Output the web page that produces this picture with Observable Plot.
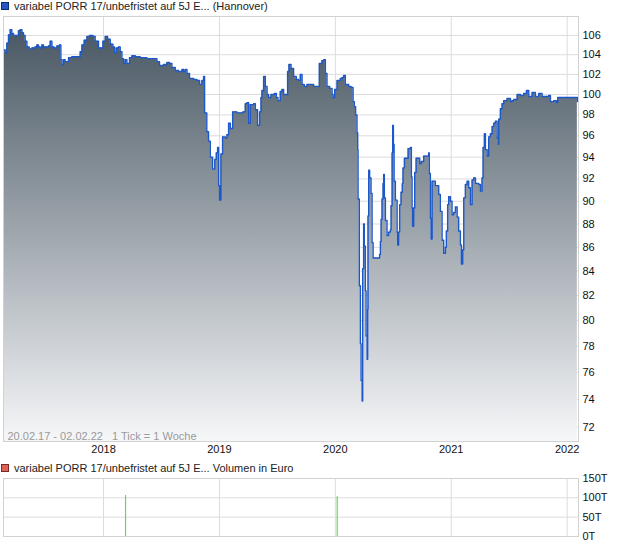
<!DOCTYPE html>
<html><head><meta charset="utf-8">
<script src="https://cdn.jsdelivr.net/npm/d3@7"></script>
<script src="https://cdn.jsdelivr.net/npm/@observablehq/plot@0.6"></script>
<style>
body{margin:0;background:#fff;font-family:"Liberation Sans",Arial,sans-serif;}
.title{position:absolute;left:1px;font-size:11px;line-height:13px;color:#222;white-space:nowrap}
.sq{display:inline-block;width:6px;height:6px;margin-right:5px;}
#main{position:absolute;left:0;top:10px}
#vol{position:absolute;left:0;top:472px}
</style></head><body>
<div class="title" style="top:0"><span class="sq" style="background:#2457c5;border:1px solid #0d2a6b"></span>variabel PORR 17/unbefristet auf 5J E... (Hannover)</div>
<div id="main"></div>
<div class="title" style="top:462px"><span class="sq" style="background:#e0605a;border:1px solid #7a2a26"></span>variabel PORR 17/unbefristet auf 5J E... Volumen in Euro</div>
<div id="vol"></div>
<script>
// ---- data (decimal years) ----
const priceYears = [2017.137,2017.152,2017.166,2017.180,2017.195,2017.209,2017.223,2017.246,2017.266,2017.281,
2017.296,2017.309,2017.324,2017.339,2017.359,2017.382,2017.410,2017.425,2017.439,2017.454,
2017.468,2017.482,2017.511,2017.525,2017.540,2017.555,2017.574,2017.598,2017.620,2017.632,
2017.641,2017.655,2017.669,2017.698,2017.727,2017.784,2017.799,2017.814,2017.833,2017.857,
2017.879,2017.909,2017.928,2017.957,2017.978,2017.995,2018.015,2018.035,2018.058,2018.081,
2018.095,2018.110,2018.129,2018.144,2018.159,2018.173,2018.187,2018.202,2018.224,2018.245,
2018.274,2018.317,2018.375,2018.432,2018.461,2018.483,2018.518,2018.547,2018.570,2018.590,
2018.619,2018.647,2018.677,2018.691,2018.705,2018.720,2018.742,2018.777,2018.806,2018.829,
2018.849,2018.863,2018.872,2018.891,2018.906,2018.921,2018.941,2018.960,2018.973,2018.984,
2018.993,2019.001,2019.013,2019.027,2019.051,2019.065,2019.079,2019.094,2019.114,2019.152,
2019.203,2019.223,2019.238,2019.252,2019.266,2019.295,2019.310,2019.329,2019.347,2019.359,
2019.367,2019.381,2019.396,2019.411,2019.424,2019.445,2019.474,2019.491,2019.505,2019.525,
2019.540,2019.554,2019.577,2019.588,2019.600,2019.618,2019.640,2019.663,2019.683,2019.698,
2019.713,2019.732,2019.756,2019.784,2019.813,2019.847,2019.862,2019.885,2019.899,2019.914,
2019.928,2019.951,2019.972,2019.980,2019.994,2020.015,2020.043,2020.058,2020.072,2020.086,
2020.115,2020.136,2020.153,2020.164,2020.175,2020.187,2020.193,2020.196,2020.207,2020.216,
2020.222,2020.231,2020.236,2020.244,2020.250,2020.259,2020.265,2020.274,2020.279,2020.282,
2020.288,2020.296,2020.308,2020.317,2020.326,2020.365,2020.382,2020.389,2020.395,2020.403,
2020.412,2020.417,2020.423,2020.432,2020.446,2020.460,2020.475,2020.481,2020.490,2020.495,
2020.501,2020.507,2020.518,2020.533,2020.538,2020.546,2020.555,2020.567,2020.578,2020.584,
2020.596,2020.613,2020.628,2020.647,2020.656,2020.662,2020.667,2020.676,2020.685,2020.697,
2020.710,2020.728,2020.742,2020.762,2020.786,2020.805,2020.811,2020.820,2020.826,2020.835,
2020.863,2020.892,2020.906,2020.921,2020.935,2020.950,2020.958,2020.969,2020.978,2020.993,
2021.007,2021.021,2021.036,2021.051,2021.064,2021.079,2021.088,2021.099,2021.108,2021.122,
2021.137,2021.151,2021.165,2021.180,2021.194,2021.209,2021.237,2021.252,2021.266,2021.275,
2021.286,2021.295,2021.310,2021.323,2021.338,2021.353,2021.367,2021.381,2021.396,2021.405,
2021.410,2021.424,2021.439,2021.453,2021.482,2021.511,2021.525,2021.539,2021.569,2021.597,
2021.625,2021.649,2021.669,2021.698,2021.726,2021.755,2021.784,2021.827,2021.841,2021.856,
2021.884,2021.908,2021.919,2021.971,2022.072,2022.088];

const priceValues = [104.5,104.2,105.2,106.05,106.6,106.2,106.0,106.0,106.5,106.6,
106.3,106.0,105.4,104.8,104.6,104.7,104.8,105.0,104.8,104.7,
105.0,104.8,104.8,104.9,105.4,104.8,104.7,104.9,105.0,103.5,
103.0,103.5,103.3,103.7,103.8,103.8,104.3,105.0,105.5,105.9,
106.0,105.9,105.4,104.7,104.7,105.4,105.9,105.6,105.1,104.8,
104.2,104.7,104.8,104.3,103.6,103.1,103.5,103.1,103.7,103.9,
103.8,103.7,103.6,103.6,103.3,102.9,103.0,103.2,103.1,102.7,
102.4,102.3,102.5,102.3,102.5,102.1,101.6,101.5,101.4,101.0,
101.4,101.8,98.2,96.4,95.5,94.0,92.9,93.8,94.4,94.9,
91.4,90.1,94.3,95.9,95.8,96.1,97.2,96.7,98.3,98.2,
98.3,99.1,99.2,97.2,99.0,99.1,98.5,97.0,98.3,99.7,
100.4,101.8,100.8,100.0,99.7,100.0,100.1,99.7,99.4,100.3,
100.5,100.0,100.0,102.3,103.0,102.6,101.8,101.5,101.4,102.0,
101.0,100.8,101.0,101.0,100.8,100.8,103.1,103.4,103.5,102.1,
100.8,100.6,100.0,99.7,100.5,101.4,101.6,101.7,101.9,101.0,
100.8,100.7,99.3,98.8,98.0,96.3,94.7,90.2,82.8,78.2,
75.4,73.9,84.2,88.0,86.1,82.4,78.8,77.0,80.9,88.7,
92.8,92.1,90.7,86.4,85.1,85.1,85.4,86.5,88.4,90.2,
91.6,92.4,90.3,88.3,87.0,87.3,87.5,89.6,94.4,97.0,
95.2,91.8,90.1,87.3,86.2,87.3,89.7,90.8,91.6,93.0,
93.9,93.9,94.8,94.9,92.2,89.4,87.8,89.4,92.6,93.9,
93.9,93.4,93.6,94.1,94.1,94.4,92.5,88.5,86.7,91.8,
91.4,90.6,89.1,86.6,85.5,86.0,87.4,89.7,90.4,90.0,
88.8,89.0,89.5,88.6,87.4,86.2,84.6,85.8,90.3,91.5,
91.8,91.2,89.7,91.9,92.1,91.6,91.5,90.9,92.1,94.9,
96.2,94.7,94.1,95.9,96.2,96.9,97.2,97.4,95.8,95.2,
97.6,98.6,99.1,99.4,99.6,99.3,99.4,99.5,100.0,99.9,
100.1,100.4,99.8,100.2,99.8,100.1,99.8,99.8,99.9,99.3,
99.4,99.2,99.7,99.7,99.7,99.3];

const volumeYears = [2018.190, 2020.016];
const volumeValues = [106000, 103000];

const yearTicks = [2018, 2019, 2020, 2021, 2022];
const priceTicks = [72,74,76,78,80,82,84,86,88,90,92,94,96,98,100,102,104,106];
const volumeTicks = [0, 50000, 100000, 150000];
const footnote = "20.02.17 - 02.02.22\u00a0\u00a0\u00a01 Tick = 1 Woche";

// ---- build ----
const priceData = priceYears.map((t, i) => ({t, v: priceValues[i]})).filter(d => d.v != null);
const volData = volumeYears.map((t, i) => ({t, v: volumeValues[i]}));
const X_DOMAIN = [2017.137, 2022.098];
const Y_MIN = 71, Y_MAX = 108;
const FONT = '"Liberation Sans", Arial, sans-serif';
const GRID = "#dcdcdc", FRAME = "#d2d2d2";

const main = Plot.plot({
  width: 620, height: 451,
  marginTop: 6, marginRight: 42, marginBottom: 20, marginLeft: 3,
  style: {fontFamily: FONT, fontSize: "11px", color: "#111", background: "transparent", overflow: "visible"},
  x: {type: "linear", domain: X_DOMAIN, ticks: yearTicks, tickFormat: "d", tickSize: 0, tickPadding: 4, label: null},
  y: {type: "log", domain: [Y_MIN, Y_MAX], axis: "right", ticks: priceTicks, tickFormat: "d", tickSize: 0, tickPadding: 4, label: null},
  marks: [
    Plot.ruleY(priceTicks, {stroke: GRID}),
    Plot.ruleX(yearTicks, {stroke: GRID}),
    Plot.areaY(priceData, {x: "t", y1: Y_MIN, y2: "v", curve: "step-after", fill: "url(#priceGrad)"}),
    Plot.lineY(priceData, {x: "t", y: "v", curve: "step-after", stroke: "#1d58c9", strokeWidth: 1.4}),
    Plot.text([footnote], {text: d => d, frameAnchor: "bottom-left", dx: 4, dy: -2, fill: "#9a9a9a", textAnchor: "start", fontSize: 11}),
    Plot.frame({stroke: FRAME})
  ]
});
const svg = d3.select(main);
const grad = svg.insert("defs", ":first-child").append("linearGradient")
  .attr("id", "priceGrad").attr("gradientUnits", "userSpaceOnUse")
  .attr("x1", 0).attr("x2", 0).attr("y1", 6).attr("y2", 431);
grad.append("stop").attr("offset", "0%").attr("stop-color", "#44535f");
grad.append("stop").attr("offset", "100%").attr("stop-color", "#f6f7f9");
document.getElementById("main").appendChild(main);

const vol = Plot.plot({
  width: 620, height: 70,
  marginTop: 6, marginRight: 42, marginBottom: 6, marginLeft: 3,
  style: {fontFamily: FONT, fontSize: "11px", color: "#111", background: "transparent", overflow: "visible"},
  x: {type: "linear", domain: X_DOMAIN, axis: null},
  y: {domain: [0, 150000], axis: "right", ticks: volumeTicks, tickFormat: d => (d / 1000) + "T", tickSize: 0, tickPadding: 4, label: null},
  marks: [
    Plot.ruleY(volumeTicks, {stroke: GRID}),
    Plot.ruleX(yearTicks, {stroke: GRID}),
    Plot.ruleX(volData, {x: "t", y1: 0, y2: "v", stroke: "#62d95a", strokeWidth: 1.2}),
    Plot.frame({stroke: FRAME})
  ]
});
document.getElementById("vol").appendChild(vol);
</script>
</body></html>
